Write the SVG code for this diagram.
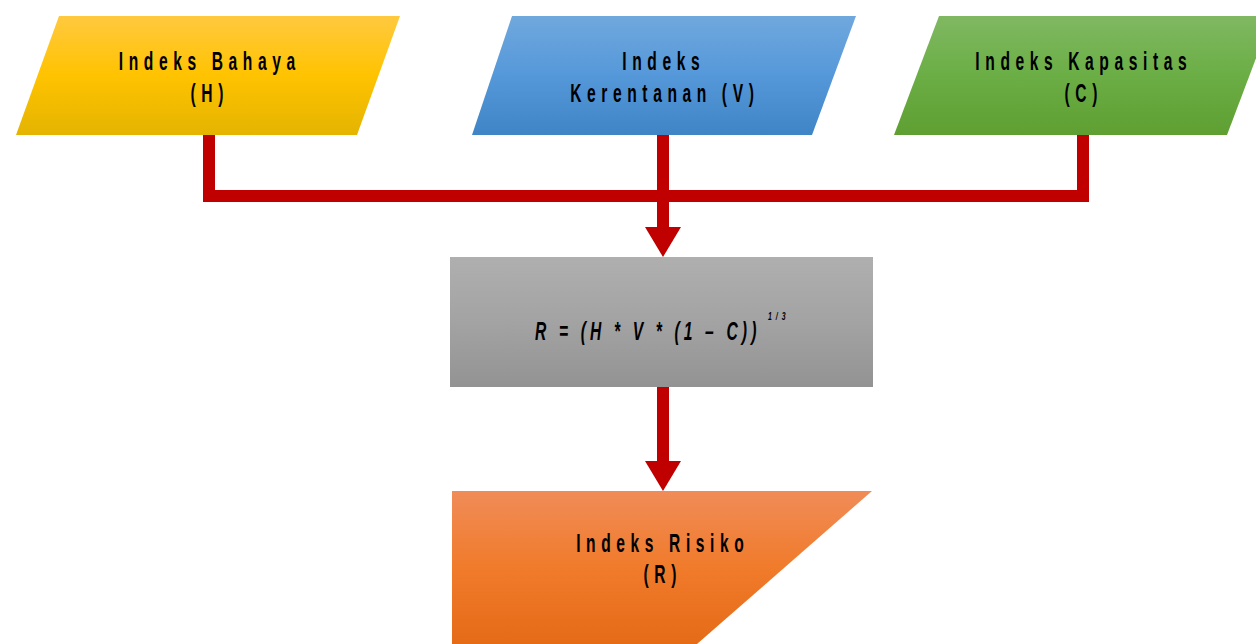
<svg xmlns="http://www.w3.org/2000/svg" width="1256" height="644" viewBox="0 0 1256 644">
<style>
.lbl{font-family:"Liberation Sans",Arial,sans-serif;font-size:19.5px;font-weight:bold;fill:#000;text-anchor:middle;letter-spacing:7px}
.frm{font-family:"Liberation Sans",Arial,sans-serif;font-size:19.5px;font-weight:bold;fill:#000;font-style:italic;letter-spacing:5.2px}
.sup{font-family:"Liberation Sans",Arial,sans-serif;font-size:8.6px;font-weight:bold;fill:#000;font-style:italic;letter-spacing:5px}
.conn{fill:none;stroke:#c00000;stroke-width:12;stroke-linejoin:miter}
</style>
<defs>
<linearGradient id="gY" x1="0" y1="0" x2="0" y2="1"><stop offset="0" stop-color="#ffc93f"/><stop offset="0.5" stop-color="#ffc300"/><stop offset="1" stop-color="#e4b400"/></linearGradient>
<linearGradient id="gB" x1="0" y1="0" x2="0" y2="1"><stop offset="0" stop-color="#70a8dd"/><stop offset="0.5" stop-color="#5598da"/><stop offset="1" stop-color="#3f85c6"/></linearGradient>
<linearGradient id="gG" x1="0" y1="0" x2="0" y2="1"><stop offset="0" stop-color="#80b862"/><stop offset="0.5" stop-color="#6bae45"/><stop offset="1" stop-color="#5f9f32"/></linearGradient>
<linearGradient id="gR" x1="0" y1="0" x2="0" y2="1"><stop offset="0" stop-color="#afafaf"/><stop offset="0.5" stop-color="#a3a3a3"/><stop offset="1" stop-color="#939393"/></linearGradient>
<linearGradient id="gO" x1="0" y1="0" x2="0" y2="1"><stop offset="0" stop-color="#f08c58"/><stop offset="0.5" stop-color="#f07b2b"/><stop offset="1" stop-color="#e56b17"/></linearGradient>
<marker id="arr" markerUnits="userSpaceOnUse" markerWidth="30" markerHeight="36" viewBox="0 0 30 36" refX="2" refY="18" orient="auto">
<path d="M0 0 L30 18 L0 36 Z" fill="#c00000"/>
</marker>
</defs>
<rect width="1256" height="644" fill="#ffffff"/>
<g id="connectors">
<path class="conn" d="M209 135 V196 H1083 V135"/>
<path class="conn" d="M663 135 V229" marker-end="url(#arr)"/>
<path class="conn" d="M663 387 V463" marker-end="url(#arr)"/>
</g>
<g id="node-H">
<polygon points="59,16 400,16 357,135 16,135" fill="url(#gY)"/>
<g transform="translate(207,70) scale(0.8,1.3)"><text class="lbl" x="3.5" y="0">Indeks Bahaya</text></g>
<g transform="translate(207,102) scale(0.8,1.3)"><text class="lbl" x="3.5" y="0">(H)</text></g>
</g>
<g id="node-V">
<polygon points="512,16 856,16 812,135 472,135" fill="url(#gB)"/>
<g transform="translate(661,70) scale(0.8,1.3)"><text class="lbl" x="3.5" y="0">Indeks</text></g>
<g transform="translate(662,102) scale(0.8,1.3)"><text class="lbl" x="3.5" y="0">Kerentanan (V)</text></g>
</g>
<g id="node-C">
<polygon points="939,16 1272,16 1227,135 894,135" fill="url(#gG)"/>
<g transform="translate(1081,70) scale(0.8,1.3)"><text class="lbl" x="3.5" y="0">Indeks Kapasitas</text></g>
<g transform="translate(1081,102) scale(0.8,1.3)"><text class="lbl" x="3.5" y="0">(C)</text></g>
</g>
<g id="node-formula">
<rect x="450" y="257" width="423" height="130" fill="url(#gR)"/>
<g transform="translate(535,340) scale(0.8,1.3)"><text class="frm" x="0" y="0">R = (H * V * (1 – C))</text></g>
<g transform="translate(768,320) scale(0.8,1.3)"><text class="sup" x="0" y="0">1/3</text></g>
</g>
<g id="node-R">
<polygon points="452,491 872,491 697,644 452,644" fill="url(#gO)"/>
<g transform="translate(660,552) scale(0.8,1.3)"><text class="lbl" x="3.5" y="0">Indeks Risiko</text></g>
<g transform="translate(660,583) scale(0.8,1.3)"><text class="lbl" x="3.5" y="0">(R)</text></g>
</g>
</svg>
